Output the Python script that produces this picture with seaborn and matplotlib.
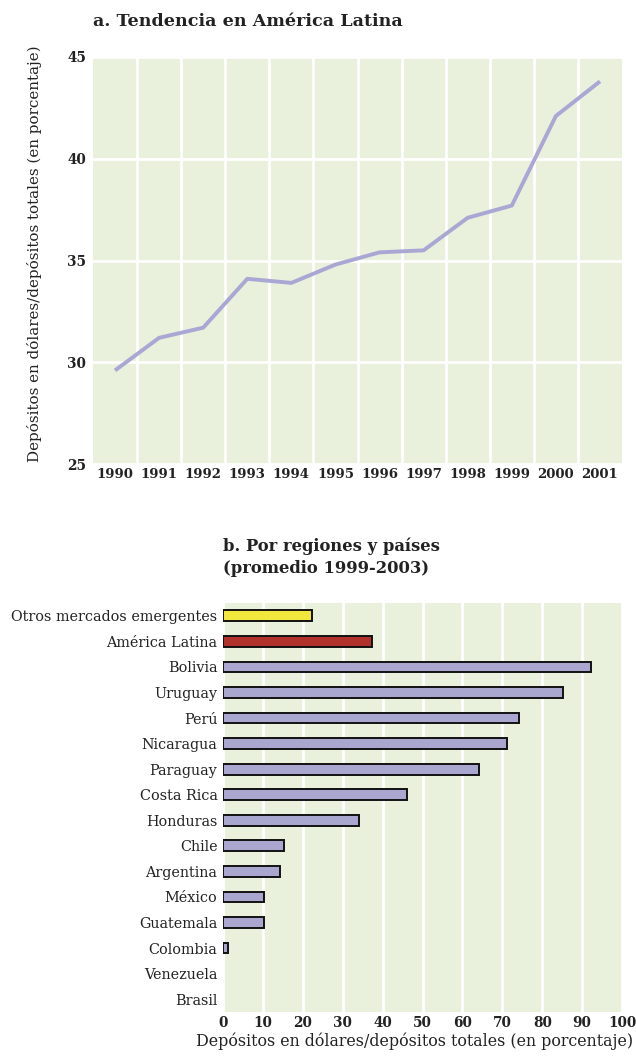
import numpy as np
import pandas as pd
import matplotlib
matplotlib.use("Agg")
import matplotlib.pyplot as plt
import seaborn as sns
from matplotlib.ticker import MultipleLocator, FixedLocator

# ---------------- data ----------------
years = [1990, 1991, 1992, 1993, 1994, 1995, 1996, 1997, 1998, 1999, 2000, 2001]
share_latam = [29.6, 31.2, 31.7, 34.1, 33.9, 34.8, 35.4, 35.5, 37.1, 37.7, 42.1, 43.8]

countries = ["Otros mercados emergentes", "América Latina", "Bolivia", "Uruguay", "Perú",
             "Nicaragua", "Paraguay", "Costa Rica", "Honduras", "Chile", "Argentina",
             "México", "Guatemala", "Colombia", "Venezuela", "Brasil"]
share_country = [22.3, 37.3, 92.2, 85.2, 74.2, 71.2, 64.2, 46.1, 34.1, 15.3, 14.3,
                 10.3, 10.3, 1.3, 0.0, 0.0]

title_a = "a. Tendencia en América Latina"
title_b = "b. Por regiones y países\n(promedio 1999-2003)"
ylabel_a = "Depósitos en dólares/depósitos totales (en porcentaje)"
xlabel_b = "Depósitos en dólares/depósitos totales (en porcentaje)"

# ---------------- style ----------------
sns.set_theme(style="white")
plt.rcParams['font.family'] = ['DejaVu Serif', 'DejaVu Sans']

BG = "#e9f0dc"
LINE = "#a9a7d3"
BAR = "#a9a6cf"
YEL = "#f2e73c"
RED = "#b1312c"
TXT = "#222222"

W, H = 636, 1057
fig = plt.figure(figsize=(W / 100, H / 100), dpi=100)

def axrect(l, t, r, b):
    return [l / W, 1 - b / H, (r - l) / W, (b - t) / H]

# ---------------- panel a ----------------
ax1 = fig.add_axes(axrect(93, 57, 622, 464))
ax1.set_facecolor(BG)
df_a = pd.DataFrame({"year": years, "share": share_latam})
sns.lineplot(data=df_a, x="year", y="share", ax=ax1, color=LINE, linewidth=2.8,
             solid_capstyle="butt")
ax1.set_xlim(1989.5, 2001.5)
ax1.set_ylim(25, 45)
ax1.xaxis.set_major_locator(FixedLocator(years))
ax1.xaxis.set_minor_locator(FixedLocator([y + 0.5 for y in years[:-1]]))
ax1.yaxis.set_major_locator(MultipleLocator(5))
ax1.grid(False)
ax1.grid(which="minor", axis="x", color="white", linewidth=2)
ax1.grid(which="major", axis="y", color="white", linewidth=2)
ax1.set_axisbelow(True)
for s in ax1.spines.values():
    s.set_visible(False)
ax1.tick_params(which="both", length=0, labelcolor=TXT)
ax1.tick_params(axis="y", pad=5, labelsize=9.8)
ax1.tick_params(axis="x", pad=3, labelsize=9.5)
for lab in ax1.get_xticklabels() + ax1.get_yticklabels():
    lab.set_fontweight("bold")
ax1.set_xlabel("")
ax1.set_ylabel("")
fig.text(93 / W, 1 - 22 / H, title_a, fontsize=12.6, fontweight="bold",
         ha="left", va="center", color=TXT)
fig.text(35 / W, 1 - 254 / H, ylabel_a, rotation=90, fontsize=10.9,
         ha="center", va="center", color=TXT)

# ---------------- panel b ----------------
ax2 = fig.add_axes(axrect(223, 603, 622, 1012))
ax2.set_facecolor(BG)
df_b = pd.DataFrame({"country": countries, "share": share_country})
palette = [YEL, RED] + [BAR] * (len(countries) - 2)
sns.barplot(data=df_b, y="country", x="share", hue="country", palette=palette,
            legend=False, ax=ax2, orient="h", width=0.42,
            edgecolor="#111111", linewidth=1.4, saturation=1)
for p in ax2.patches:
    if p.get_width() == 0:
        p.set_visible(False)
ax2.set_xlim(0, 100)
ax2.set_ylim(len(countries) - 0.5, -0.5)
ax2.xaxis.set_major_locator(MultipleLocator(10))
ax2.grid(False)
ax2.grid(axis="x", color="white", linewidth=2)
ax2.set_axisbelow(True)
for s in ax2.spines.values():
    s.set_visible(False)
ax2.tick_params(which="both", length=0, labelcolor=TXT)
ax2.tick_params(axis="y", pad=4, labelsize=10.4)
ax2.tick_params(axis="x", pad=3, labelsize=9.8)
for lab in ax2.get_xticklabels():
    lab.set_fontweight("bold")
ax2.set_xlabel("")
ax2.set_ylabel("")
fig.text(223 / W, 1 - 557 / H, title_b, fontsize=11.8, fontweight="bold",
         ha="left", va="center", color=TXT, linespacing=1.4)
fig.text(633 / W, 1 - 1041 / H, xlabel_b, fontsize=11.4, ha="right", va="center",
         color=TXT)

fig.savefig("out.png", dpi=100)
